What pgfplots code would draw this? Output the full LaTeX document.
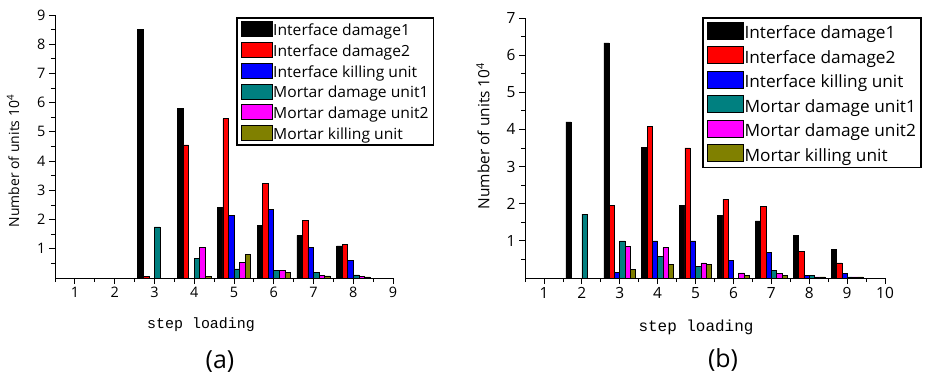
\documentclass[border=0pt]{standalone}
\usepackage{fontspec}
\setmainfont{Open Sans}
\newfontfamily\monof{Liberation Mono}
\newfontfamily\legf[FakeStretch=1.02]{Open Sans}
\usepackage{pgfplots}
\pgfplotsset{compat=1.18}
\definecolor{cteal}{RGB}{0,128,128}
\definecolor{colive}{RGB}{128,128,0}
\definecolor{cred}{RGB}{255,0,0}
\definecolor{cblue}{RGB}{0,0,255}
\definecolor{cmag}{RGB}{255,0,255}
\pgfplotsset{
  bs/.style={fill=#1, draw=black, line width=0.5pt,
    legend image code/.code={\draw[fill=#1,draw=black,line width=0.5pt] (0bp,-6bp) rectangle (31bp,9bp);}},
  bsb/.style={fill=#1, draw=black, line width=0.5pt,
    legend image code/.code={\draw[fill=#1,draw=black,line width=0.5pt] (0bp,-6bp) rectangle (36bp,11bp);}},
  common/.style={
    scale only axis, clip=false,
    axis x line*=bottom, axis y line*=left,
    ymin=0, xmin=0.5,
    ybar, bar width=0.14,
    tick align=outside,
    major tick length=6bp, minor tick length=4bp,
    tick style={black, line width=0.8pt},
    axis line style={black, line width=0.9pt},
    /pgf/number format/assume math mode=true,
    legend cell align=left,
    legend style={anchor=north west, draw=black, line width=1.8pt,
      nodes={inner sep=1bp}},
  },
}
\begin{document}
\begin{tikzpicture}
\useasboundingbox (0,0) rectangle (927bp,375bp);
% ---------------- (a) ----------------
\begin{axis}[common,
  at={(55bp,97bp)}, anchor=south west,
  width=338bp, height=263bp,
  xmax=9, ymax=9,
  xtick={1,...,9}, minor xtick={0.5,1.5,...,8.5},
  ytick={1,...,9}, minor ytick={0.5,1.5,...,8.5},
  ticklabel style={font=\fontsize{14.5}{16}\selectfont},
  ylabel={Number of units 10\textsuperscript{4}},
  ylabel style={at={(axis description cs:-0.124,0.445)}, anchor=center, font=\fontsize{14}{16}\selectfont},
  xlabel={\monof step loading},
  xlabel style={at={(axis description cs:0.432,-0.179)}, anchor=center, font=\fontsize{15}{17}\selectfont},
  legend style={at={(axis description cs:0.535,0.992)}, font=\legf\fontsize{15.4}{17}\selectfont,
    inner xsep=4bp, inner ysep=3bp, row sep=4bp},
]
\addplot[bs=black, bar shift=-0.35] coordinates {(3,8.5) (4,5.8) (5,2.42) (6,1.79) (7,1.46) (8,1.1)};
\addplot[bs=cred, bar shift=-0.21] coordinates {(3,0.05) (4,4.56) (5,5.45) (6,3.25) (7,1.96) (8,1.15)};
\addplot[bs=cblue, bar shift=-0.07] coordinates {(5,2.15) (6,2.36) (7,1.05) (8,0.6)};
\addplot[bs=cteal, bar shift=0.07] coordinates {(3,1.75) (4,0.66) (5,0.31) (6,0.26) (7,0.19) (8,0.11)};
\addplot[bs=cmag, bar shift=0.21] coordinates {(4,1.05) (5,0.54) (6,0.26) (7,0.1) (8,0.05)};
\addplot[bs=colive, bar shift=0.35] coordinates {(4,0.05) (5,0.8) (6,0.19) (7,0.07) (8,0.04)};
\legend{Interface damage1, Interface damage2, Interface killing unit, Mortar damage unit1, Mortar damage unit2, Mortar killing unit}
\node[font=\fontsize{25}{29}\selectfont] at (axis description cs:0.488,-0.319) {(a)};
\end{axis}
% ---------------- (b) ----------------
\begin{axis}[common,
  at={(525bp,97bp)}, anchor=south west,
  width=360bp, height=260bp,
  xmax=10, ymax=7,
  xtick={1,...,10}, minor xtick={0.5,1.5,...,9.5},
  ytick={1,...,7}, minor ytick={0.5,1.5,...,6.5},
  ticklabel style={font=\fontsize{15.5}{17}\selectfont},
  ylabel={Number of units 10\textsuperscript{4}},
  ylabel style={at={(axis description cs:-0.117,0.546)}, anchor=center, font=\fontsize{15.5}{17}\selectfont},
  xlabel={\monof step loading},
  xlabel style={at={(axis description cs:0.475,-0.188)}, anchor=center, font=\fontsize{16}{18}\selectfont},
  legend style={at={(axis description cs:0.492,1.004)}, font=\legf\fontsize{17}{19}\selectfont,
    inner xsep=4bp, inner ysep=4bp, row sep=5bp},
]
\addplot[bsb=black, bar shift=-0.35] coordinates {(2,4.2) (3,6.33) (4,3.51) (5,1.96) (6,1.69) (7,1.54) (8,1.15) (9,0.77)};
\addplot[bsb=cred, bar shift=-0.21] coordinates {(3,1.95) (4,4.08) (5,3.5) (6,2.12) (7,1.92) (8,0.72) (9,0.41)};
\addplot[bsb=cblue, bar shift=-0.07] coordinates {(3,0.16) (4,1.0) (5,1.0) (6,0.48) (7,0.68) (8,0.08) (9,0.12)};
\addplot[bsb=cteal, bar shift=0.07] coordinates {(2,1.72) (3,1.0) (4,0.58) (5,0.32) (7,0.2) (8,0.08) (9,0.03)};
\addplot[bsb=cmag, bar shift=0.21] coordinates {(3,0.86) (4,0.82) (5,0.41) (6,0.14) (7,0.12) (8,0.03) (9,0.03)};
\addplot[bsb=colive, bar shift=0.35] coordinates {(3,0.24) (4,0.36) (5,0.37) (6,0.08) (7,0.07) (8,0.03) (9,0.03)};
\legend{Interface damage1, Interface damage2, Interface killing unit, Mortar damage unit1, Mortar damage unit2, Mortar killing unit}
\node[font=\fontsize{25}{29}\selectfont] at (axis description cs:0.55,-0.315) {(b)};
\end{axis}
\end{tikzpicture}
\end{document}
